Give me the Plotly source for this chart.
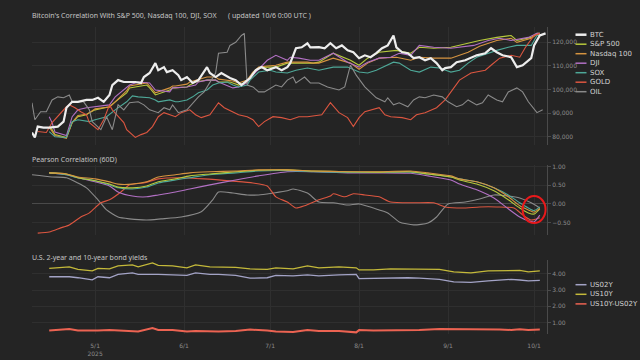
import plotly.graph_objects as go

def dates(s):
    return ["2025-" + t for t in s.split()]

# ---------------- top panel (BTC price, others normalised to BTC scale, in thousands) -------------
btc_dates = dates("04-09 04-10 04-11 04-13 04-15 04-18 04-20 04-21 04-23 04-25 04-28 04-30 05-02 05-04 05-06 05-07 05-09 05-11 05-13 05-15 05-17 05-18 05-20 05-22 05-23 05-25 05-26 05-28 05-30 05-31 06-02 06-04 06-06 06-09 06-10 06-12 06-14 06-17 06-19 06-21 06-24 06-26 06-28 06-30 07-03 07-05 07-07 07-08 07-10 07-12 07-14 07-15 07-18 07-20 07-22 07-24 07-26 07-28 07-30 08-01 08-03 08-05 08-07 08-09 08-11 08-13 08-14 08-16 08-18 08-20 08-22 08-24 08-26 08-28 08-30 08-31 09-02 09-04 09-07 09-09 09-11 09-14 09-16 09-18 09-20 09-23 09-25 09-27 09-28 09-30 10-01 10-03 10-05")
btc_k = [81.8, 79.7, 84.3, 83.9, 83.9, 84.3, 86.4, 92.3, 94.8, 94.8, 95.6, 95.6, 96.5, 94.8, 97.7, 101.9, 104.0, 103.2, 103.2, 103.2, 102.8, 105.3, 107.0, 111.2, 108.2, 109.5, 107.4, 108.2, 106.1, 104.0, 105.3, 102.8, 104.0, 109.5, 107.0, 105.3, 107.0, 104.9, 104.0, 101.9, 104.9, 108.2, 109.5, 108.2, 109.5, 108.2, 109.5, 111.2, 117.5, 117.9, 119.6, 117.9, 118.0, 117.5, 119.6, 117.5, 118.7, 116.6, 115.8, 113.3, 114.5, 113.7, 115.4, 117.5, 118.7, 122.9, 117.9, 115.8, 115.4, 113.3, 113.7, 112.4, 113.3, 111.2, 108.2, 109.1, 109.5, 111.6, 112.4, 113.3, 114.5, 115.4, 117.5, 115.8, 114.5, 113.7, 109.5, 110.3, 111.2, 113.3, 118.7, 122.9, 123.8]

idx_dates = dates("04-15 04-16 04-17 04-21 04-23 04-25 04-28 04-29 05-01 05-05 05-06 05-08 05-12 05-13 05-15 05-19 05-20 05-22 05-27 05-28 05-29 06-02 06-03 06-05 06-09 06-10 06-12 06-13 06-17 06-18 06-20 06-23 06-25 06-27 06-30 07-03 07-07 07-09 07-14 07-16 07-18 07-23 07-29 08-01 08-04 08-08 08-14 08-19 08-22 08-27 09-02 09-08 09-12 09-18 09-23 09-25 09-30 10-02 10-03")
spx_k = [84.3, 83.0, 80.9, 79.7, 86.0, 88.5, 89.3, 90.2, 91.4, 92.3, 92.7, 94.8, 98.6, 100.7, 101.1, 101.9, 100.7, 97.7, 99.8, 100.7, 100.7, 101.1, 101.9, 103.2, 104.0, 104.0, 104.0, 103.2, 103.2, 102.8, 101.9, 103.2, 107.0, 109.1, 109.5, 109.5, 111.2, 111.2, 111.2, 111.2, 111.6, 115.4, 112.4, 110.3, 113.3, 115.8, 116.6, 115.4, 117.9, 117.5, 117.9, 119.6, 120.8, 122.1, 122.9, 120.8, 122.1, 123.8, 123.8]
ndx_k = [84.0, 82.5, 80.5, 79.3, 86.0, 89.0, 89.5, 90.2, 91.8, 92.5, 92.5, 94.8, 99.5, 101.5, 102.0, 102.8, 101.5, 98.6, 100.7, 101.5, 101.5, 102.3, 103.2, 104.0, 105.3, 105.3, 105.3, 104.4, 104.0, 103.6, 102.8, 104.0, 107.4, 109.5, 110.0, 110.3, 111.6, 111.6, 111.6, 111.2, 111.2, 113.3, 111.2, 108.6, 111.2, 113.3, 113.7, 112.4, 113.7, 113.3, 113.3, 115.8, 118.3, 120.8, 121.7, 120.0, 121.7, 123.4, 123.4]

dji_dates = dates("04-15 04-16 04-17 04-21 04-23 04-25 04-28 05-01 05-06 05-08 05-12 05-13 05-16 05-20 05-22 05-27 05-28 06-02 06-05 06-06 06-09 06-12 06-13 06-17 06-18 06-20 06-23 06-24 06-26 06-30 07-03 07-07 07-08 07-11 07-15 07-18 07-23 07-28 08-01 08-04 08-08 08-12 08-15 08-19 08-22 08-27 09-02 09-05 09-10 09-15 09-19 09-23 09-29 10-02 10-03")
dji_k = [88.5, 86.0, 82.0, 80.5, 88.5, 91.4, 92.3, 92.7, 93.5, 96.9, 100.7, 101.9, 103.2, 102.8, 99.8, 99.0, 100.7, 101.1, 101.9, 103.2, 104.0, 104.0, 103.2, 101.1, 100.7, 101.1, 102.8, 104.9, 107.4, 112.4, 114.5, 112.4, 113.7, 113.3, 112.4, 112.4, 115.4, 111.6, 109.5, 111.6, 113.3, 113.7, 115.4, 114.5, 118.7, 117.9, 117.5, 117.9, 118.7, 120.8, 121.7, 120.8, 122.1, 123.8, 123.8]

sox_dates = dates("04-15 04-17 04-21 04-23 04-25 04-29 05-01 05-05 05-08 05-12 05-14 05-16 05-20 05-22 05-23 05-27 05-29 05-30 06-02 06-04 06-06 06-09 06-11 06-13 06-16 06-18 06-20 06-23 06-24 06-26 06-27 07-01 07-03 07-07 07-10 07-14 07-18 07-23 07-28 08-01 08-04 08-07 08-11 08-13 08-15 08-19 08-22 08-26 08-29 09-02 09-05 09-08 09-11 09-15 09-18 09-22 09-25 09-30 10-02 10-03")
sox_k = [82.2, 80.0, 79.7, 86.4, 87.2, 86.4, 87.2, 88.5, 91.4, 94.8, 97.3, 96.9, 96.5, 95.6, 94.8, 95.6, 94.8, 94.8, 95.6, 96.9, 98.6, 99.8, 101.9, 102.8, 103.2, 101.9, 101.1, 101.9, 104.0, 106.1, 107.4, 108.2, 107.4, 107.0, 108.2, 109.1, 108.2, 109.5, 109.5, 107.4, 107.0, 108.2, 110.3, 111.6, 111.2, 108.2, 107.4, 109.5, 109.1, 107.4, 108.2, 111.2, 113.7, 115.4, 116.6, 117.9, 118.7, 118.7, 122.9, 122.9]

gold_dates = dates("04-11 04-14 04-16 04-19 04-21 04-22 04-24 04-26 04-28 04-29 05-02 05-04 05-06 05-07 05-09 05-11 05-12 05-14 05-15 05-17 05-19 05-21 05-23 05-25 05-27 05-29 05-31 06-03 06-05 06-07 06-10 06-12 06-13 06-15 06-18 06-20 06-23 06-25 06-27 06-29 07-02 07-05 07-08 07-11 07-14 07-19 07-22 07-25 07-28 07-30 08-01 08-03 08-08 08-10 08-12 08-16 08-19 08-21 08-24 08-28 08-31 09-03 09-05 09-09 09-14 09-16 09-19 09-23 09-26 09-28 10-01 10-03")
gold_k = [82.2, 81.8, 86.0, 90.2, 92.7, 93.5, 92.3, 90.6, 89.3, 86.0, 83.0, 87.2, 93.5, 91.4, 88.5, 86.0, 83.0, 80.9, 79.7, 80.9, 81.8, 84.3, 88.5, 90.2, 89.3, 88.5, 90.2, 91.4, 89.3, 88.1, 89.3, 92.7, 94.4, 92.3, 90.6, 89.3, 88.5, 87.2, 84.3, 86.4, 88.5, 88.1, 87.2, 88.5, 88.5, 89.3, 94.4, 90.2, 88.1, 84.3, 88.1, 90.6, 92.3, 89.3, 88.5, 88.1, 87.2, 89.3, 90.2, 92.3, 95.6, 100.7, 104.0, 107.0, 108.2, 110.3, 113.3, 114.5, 113.7, 117.9, 122.9, 123.8]

oil_dates = dates("04-09 04-10 04-12 04-14 04-16 04-18 04-20 04-22 04-23 04-25 04-27 04-29 04-30 05-03 05-05 05-07 05-09 05-11 05-13 05-16 05-18 05-20 05-23 05-25 05-27 05-28 05-30 06-02 06-04 06-06 06-08 06-10 06-12 06-13 06-16 06-17 06-19 06-21 06-22 06-23 06-25 06-27 06-29 07-03 07-05 07-07 07-09 07-10 07-13 07-15 07-18 07-21 07-25 07-27 07-29 07-31 08-03 08-07 08-10 08-11 08-13 08-15 08-18 08-20 08-22 08-24 08-27 08-30 09-01 09-04 09-06 09-08 09-11 09-13 09-15 09-18 09-20 09-22 09-25 09-27 09-29 10-02 10-04")
oil_k = [94.4, 87.2, 90.6, 90.6, 95.6, 96.9, 96.5, 97.7, 94.8, 94.8, 94.8, 91.4, 86.4, 83.0, 88.5, 83.0, 93.5, 91.4, 94.4, 94.8, 93.5, 91.4, 90.2, 92.3, 91.4, 93.5, 90.2, 91.4, 94.4, 96.9, 99.0, 103.2, 107.0, 115.4, 115.8, 118.7, 120.0, 122.9, 123.8, 101.9, 101.1, 99.0, 99.0, 101.9, 101.1, 104.0, 105.3, 102.8, 105.3, 102.8, 102.8, 101.1, 99.8, 101.1, 110.3, 106.1, 101.1, 96.5, 94.8, 96.5, 93.5, 94.4, 92.7, 95.6, 96.9, 96.5, 97.7, 96.9, 94.8, 92.7, 93.5, 95.6, 93.5, 94.4, 97.7, 95.6, 94.8, 99.0, 100.7, 99.0, 94.8, 90.2, 91.4]

# ---------------- middle panel (60-day Pearson correlation with BTC) -------------
corr_dates = dates("04-15 04-21 04-25 05-01 05-06 05-09 05-14 05-19 05-23 05-29 06-03 06-10 06-19 06-27 07-07 07-16 07-28 08-07 08-19 08-25 09-02 09-05 09-11 09-17 09-22 09-26 09-29 10-01 10-03")
corr_spx = [0.83, 0.80, 0.70, 0.62, 0.53, 0.45, 0.43, 0.48, 0.59, 0.67, 0.75, 0.80, 0.86, 0.90, 0.91, 0.88, 0.86, 0.85, 0.86, 0.80, 0.72, 0.64, 0.53, 0.35, 0.11, -0.11, -0.24, -0.27, -0.13]
corr_ndx = [0.83, 0.80, 0.72, 0.67, 0.59, 0.53, 0.53, 0.59, 0.72, 0.78, 0.83, 0.86, 0.88, 0.91, 0.91, 0.88, 0.86, 0.86, 0.88, 0.83, 0.75, 0.67, 0.59, 0.43, 0.19, -0.05, -0.16, -0.22, -0.12]
corr_dji = [0.83, 0.78, 0.70, 0.59, 0.48, 0.32, 0.21, 0.19, 0.24, 0.32, 0.40, 0.51, 0.64, 0.75, 0.86, 0.86, 0.83, 0.83, 0.82, 0.75, 0.64, 0.53, 0.38, 0.16, -0.13, -0.35, -0.45, -0.48, -0.30]
corr_sox = [0.83, 0.78, 0.70, 0.62, 0.51, 0.43, 0.40, 0.45, 0.56, 0.64, 0.70, 0.78, 0.83, 0.88, 0.89, 0.86, 0.84, 0.84, 0.85, 0.80, 0.72, 0.67, 0.59, 0.43, 0.24, 0.03, -0.11, -0.18, -0.08]

corr_gold_dates = dates("04-11 04-15 04-19 04-22 04-26 04-29 05-03 05-06 05-10 05-13 05-18 05-23 05-30 06-08 06-18 06-25 06-30 07-03 07-07 07-10 07-13 07-18 07-22 07-23 07-27 07-30 08-03 08-08 08-12 08-20 08-27 08-31 09-06 09-12 09-18 09-24 09-27 09-30 10-03")
corr_gold = [-0.78, -0.75, -0.64, -0.56, -0.35, -0.24, 0.03, 0.11, 0.32, 0.51, 0.56, 0.67, 0.70, 0.67, 0.61, 0.56, 0.48, 0.19, 0.05, -0.11, -0.05, 0.11, 0.21, 0.27, 0.19, 0.27, 0.24, 0.19, 0.05, 0.03, 0.03, -0.08, -0.11, -0.08, -0.08, -0.11, -0.29, -0.43, -0.37]

corr_oil_dates = dates("04-09 04-16 04-21 04-25 04-28 05-02 05-05 05-09 05-13 05-19 05-24 05-31 06-07 06-11 06-13 06-18 06-23 06-27 07-02 07-07 07-09 07-14 07-18 07-23 07-28 08-01 08-06 08-11 08-15 08-20 08-25 08-28 09-01 09-07 09-12 09-17 09-22 09-26 09-30 10-03")
corr_oil = [0.78, 0.72, 0.70, 0.56, 0.43, 0.11, -0.16, -0.35, -0.40, -0.43, -0.40, -0.35, -0.21, 0.11, 0.32, 0.29, 0.24, 0.24, 0.29, 0.35, 0.40, 0.29, 0.05, 0.03, -0.03, 0.00, -0.11, -0.24, -0.48, -0.56, -0.51, -0.35, 0.00, 0.05, 0.13, 0.24, 0.21, 0.16, 0.03, -0.11]

# ---------------- bottom panel (US treasury yields, %) -------------
bond_dates = dates("04-15 04-22 04-25 04-30 05-02 05-06 05-09 05-14 05-16 05-21 05-23 05-28 06-02 06-05 06-10 06-13 06-19 06-24 06-30 07-03 07-09 07-14 07-18 07-25 07-31 08-01 08-06 08-12 08-18 08-22 08-29 09-03 09-09 09-15 09-19 09-23 09-26 09-29 10-03")
us10y = [4.34, 4.43, 4.27, 4.18, 4.34, 4.30, 4.49, 4.55, 4.43, 4.67, 4.52, 4.49, 4.37, 4.55, 4.43, 4.43, 4.40, 4.30, 4.27, 4.37, 4.30, 4.49, 4.37, 4.43, 4.37, 4.24, 4.24, 4.30, 4.30, 4.27, 4.27, 4.12, 4.06, 4.18, 4.18, 4.21, 4.21, 4.12, 4.18]
us02y = [3.82, 3.82, 3.76, 3.63, 3.82, 3.76, 3.97, 4.06, 3.97, 4.00, 3.97, 3.94, 3.91, 4.06, 3.97, 3.97, 3.91, 3.73, 3.76, 3.91, 3.88, 3.94, 3.88, 3.94, 3.97, 3.70, 3.72, 3.76, 3.76, 3.73, 3.66, 3.51, 3.48, 3.57, 3.60, 3.66, 3.62, 3.57, 3.60]
spread = [round(a - b, 2) for a, b in zip(us10y, us02y)]

tick_dates = dates("05-01 06-01 07-01 08-01 09-01 10-01")
tick_labels = ["5/1<br>2025", "6/1", "7/1", "8/1", "9/1", "10/1"]
x_range = ["2025-04-09", "2025-10-05 12:00"]
highlight = ("2025-09-27", "2025-10-05", -0.51, 0.21)

for a, b in [(btc_dates, btc_k), (idx_dates, spx_k), (idx_dates, ndx_k), (dji_dates, dji_k),
             (sox_dates, sox_k), (gold_dates, gold_k), (oil_dates, oil_k),
             (corr_dates, corr_spx), (corr_dates, corr_ndx), (corr_dates, corr_dji), (corr_dates, corr_sox),
             (corr_gold_dates, corr_gold), (corr_oil_dates, corr_oil), (bond_dates, us10y), (bond_dates, us02y)]:
    assert len(a) == len(b), (len(a), len(b))

# ---------------- styling -------------
BG = "#242424"
GRID = "#2f2f2f"
AXC = "#4a4a4a"
TICKC = "#8c8c8c"
C_BTC, C_SPX, C_NDX, C_DJI, C_SOX, C_GOLD, C_OIL = "#ededed", "#b7c93c", "#d69440", "#b270c4", "#4ea898", "#dc5640", "#8a8a8a"
C_2Y, C_10Y, C_SPR = "#a3a3c6", "#c4b93a", "#ec6352"

W, H = 640, 360
ML, MR, MT, MB = 32, 93, 27, 26
PW, PH = W - ML - MR, H - MT - MB

def px(x):
    return (x - ML) / PW

def py(y):
    return (H - MB - y) / PH

fig = go.Figure()

top = [("BTC", btc_dates, [v * 1000 for v in btc_k], C_BTC, 2.2),
       ("S&P 500", idx_dates, [v * 1000 for v in spx_k], C_SPX, 1.1),
       ("Nasdaq 100", idx_dates, [v * 1000 for v in ndx_k], C_NDX, 1.1),
       ("DJI", dji_dates, [v * 1000 for v in dji_k], C_DJI, 1.1),
       ("SOX", sox_dates, [v * 1000 for v in sox_k], C_SOX, 1.1),
       ("GOLD", gold_dates, [v * 1000 for v in gold_k], C_GOLD, 1.1),
       ("OIL", oil_dates, [v * 1000 for v in oil_k], C_OIL, 1.1)]
# draw BTC last so it stays on top
for name, xs, ys, c, w in top[1:] + top[:1]:
    fig.add_trace(go.Scatter(x=xs, y=ys, name=name, mode="lines", line=dict(color=c, width=w),
                             xaxis="x", yaxis="y", showlegend=False))

mid = [(corr_oil_dates, corr_oil, C_OIL), (corr_gold_dates, corr_gold, C_GOLD),
       (corr_dates, corr_dji, C_DJI), (corr_dates, corr_sox, C_SOX),
       (corr_dates, corr_spx, C_SPX), (corr_dates, corr_ndx, C_NDX)]
for xs, ys, c in mid:
    fig.add_trace(go.Scatter(x=xs, y=ys, mode="lines", line=dict(color=c, width=1.1, shape="spline", smoothing=0.6),
                             xaxis="x2", yaxis="y2", showlegend=False))

bot = [("US02Y", us02y, C_2Y, 1.3), ("US10Y", us10y, C_10Y, 1.3), ("US10Y-US02Y", spread, C_SPR, 2.0)]
for name, ys, c, w in bot:
    fig.add_trace(go.Scatter(x=bond_dates, y=ys, name=name, mode="lines", line=dict(color=c, width=w),
                             xaxis="x3", yaxis="y3", showlegend=False))

def yax(domain, rng, vals, fmt, zero=False):
    return dict(domain=domain, range=rng, side="right", tickvals=vals, tickformat=fmt, automargin=False,
                showline=True, linecolor=AXC, linewidth=1, ticks="outside", ticklen=3, tickcolor=AXC,
                tickfont=dict(size=6, color=TICKC, family="DejaVu Sans"), showgrid=True, gridcolor=GRID,
                gridwidth=1, zeroline=zero, zerolinecolor="#4a4a4a", zerolinewidth=1)

def xax(show, anchor):
    d = dict(range=x_range, type="date", tickvals=tick_dates, ticktext=tick_labels, showticklabels=show,
             showgrid=True, gridcolor=GRID, gridwidth=1, zeroline=False, showline=False, automargin=False,
             ticks="outside" if show else "", ticklen=6, tickcolor=BG, anchor=anchor,
             tickfont=dict(size=6, color=TICKC, family="DejaVu Sans"))
    if anchor != "y3":
        d["matches"] = "x3"
    return d

y1 = yax([py(145), py(27)], [76500, 126500], [80000, 90000, 100000, 110000, 120000], ",")
y2 = yax([py(235), py(165)], [-0.83, 1.04], [-0.5, 0, 0.5, 1.0], ".2f", zero=True)
y3 = yax([py(334), py(260)], [0.3, 4.85], [1, 2, 3, 4], ".2f")
y1["anchor"], y2["anchor"], y3["anchor"] = "x", "x2", "x3"

annotations = []
shapes = []
TF = dict(family="Noto Sans", size=7, color="#c4c4c4")
for text, x, y in [("Bitcoin's Correlation With S&P 500, Nasdaq 100, DJI, SOX", 30, 16),
                   ("( updated 10/6 0:00 UTC )", 226, 16),
                   ("Pearson Correlation (60D)", 30, 159),
                   ("U.S. 2-year and 10-year bond yields", 30, 257)]:
    annotations.append(dict(text=text, x=px(x), y=py(y), xref="paper", yref="paper", xanchor="left",
                            yanchor="middle", showarrow=False, font=TF))

LF = dict(family="DejaVu Sans", size=7, color="#d2d2d2")
def legend(items, y0, step):
    for i, (name, c, w) in enumerate(items):
        yy = py(y0 + step * i)
        shapes.append(dict(type="line", xref="paper", yref="paper", x0=px(575.5), x1=px(586.5), y0=yy, y1=yy,
                           line=dict(color=c, width=w)))
        annotations.append(dict(text=name, x=px(587.5), y=yy, xref="paper", yref="paper", xanchor="left",
                                yanchor="middle", showarrow=False, font=LF))

legend([(n, c, 2.5 if n == "BTC" else 1.5) for n, _, _, c, _ in top], 34.7, 9.5)
legend([(n, c, 1.5) for n, _, c, _ in bot], 284.7, 9.6)

shapes.append(dict(type="circle", xref="x2", yref="y2", x0=highlight[0], x1=highlight[1],
                   y0=highlight[2], y1=highlight[3], line=dict(color="#e8191b", width=2)))

fig.update_layout(
    width=W, height=H, margin=dict(l=ML, r=MR, t=MT, b=MB, autoexpand=False),
    paper_bgcolor=BG, plot_bgcolor=BG, showlegend=False,
    xaxis=xax(False, "y"), xaxis2=xax(False, "y2"), xaxis3=xax(True, "y3"),
    yaxis=y1, yaxis2=y2, yaxis3=y3,
    annotations=annotations, shapes=shapes,
    font=dict(family="DejaVu Sans", color=TICKC),
)
fig.write_html("out.html", config={"displayModeBar": False},
               post_script="document.body.style.margin='0px';document.body.style.background='%s';" % BG)
